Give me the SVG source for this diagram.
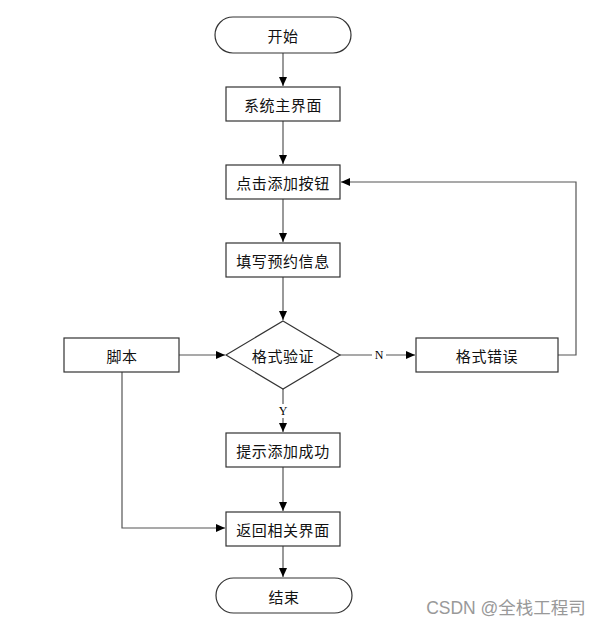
<svg xmlns="http://www.w3.org/2000/svg" width="605" height="627" viewBox="0 0 605 627">
<defs>
<style>
.n{fill:#fff;stroke:#333;stroke-width:1.2}
.t{font-family:"Noto Sans CJK SC","Noto Sans",sans-serif;font-size:15px;letter-spacing:0.6px;fill:#111;text-anchor:middle;dominant-baseline:central}
.l{font-family:"Liberation Serif",serif;font-size:12px;fill:#000;text-anchor:middle;dominant-baseline:central}
.c{fill:none;stroke:#555;stroke-width:1.2}
</style>
<marker id="a" markerWidth="10" markerHeight="10" refX="9" refY="5" orient="auto" markerUnits="userSpaceOnUse">
<path d="M0,1 L9,5 L0,9 Z" fill="#000"/>
</marker>
</defs>
<rect width="605" height="627" fill="#fff"/>
<g id="connectors">
<path class="c" d="M283,53 V86" marker-end="url(#a)"/>
<path class="c" d="M283,121 V164" marker-end="url(#a)"/>
<path class="c" d="M283,199 V242" marker-end="url(#a)"/>
<path class="c" d="M283,277 V320" marker-end="url(#a)"/>
<path class="c" d="M340,355 H415" marker-end="url(#a)"/>
<path class="c" d="M558,355 H576 V182 H341" marker-end="url(#a)"/>
<path class="c" d="M179,355 H225" marker-end="url(#a)"/>
<path class="c" d="M283,389 V432" marker-end="url(#a)"/>
<path class="c" d="M122,372 V528 H225" marker-end="url(#a)"/>
<path class="c" d="M283,467 V511" marker-end="url(#a)"/>
<path class="c" d="M283,546 V577" marker-end="url(#a)"/>
<rect x="372" y="348" width="14" height="14" fill="#fff"/>
<text class="l" x="379" y="355">N</text>
<rect x="277" y="404" width="12" height="14" fill="#fff"/>
<text class="l" x="283" y="411">Y</text>
</g>
<g id="start">
<rect class="n" x="215" y="17" width="136" height="36" rx="18"/>
<text class="t" x="283" y="35">开始</text>
</g>
<g id="main">
<rect class="n" x="226" y="87" width="114" height="34"/>
<text class="t" x="283" y="104">系统主界面</text>
</g>
<g id="click">
<rect class="n" x="226" y="165" width="114" height="34"/>
<text class="t" x="283" y="182">点击添加按钮</text>
</g>
<g id="fill">
<rect class="n" x="226" y="243" width="114" height="34"/>
<text class="t" x="283" y="260">填写预约信息</text>
</g>
<g id="verify">
<path class="n" d="M283,321 L340,355 L283,389 L226,355 Z"/>
<text class="t" x="283" y="355">格式验证</text>
</g>
<g id="error">
<rect class="n" x="416" y="338" width="142" height="34"/>
<text class="t" x="487" y="355">格式错误</text>
</g>
<g id="script">
<rect class="n" x="64" y="338" width="115" height="34"/>
<text class="t" x="122" y="355">脚本</text>
</g>
<g id="success">
<rect class="n" x="226" y="433" width="114" height="34"/>
<text class="t" x="283" y="450">提示添加成功</text>
</g>
<g id="return">
<rect class="n" x="226" y="512" width="114" height="34"/>
<text class="t" x="283" y="529">返回相关界面</text>
</g>
<g id="end">
<rect class="n" x="216" y="578" width="136" height="35" rx="17.5"/>
<text class="t" x="284" y="596">结束</text>
</g>
<text x="506" y="608" font-family="'Liberation Sans','Noto Sans CJK SC',sans-serif" font-size="17.5" fill="#999" text-anchor="middle" dominant-baseline="central">CSDN @全栈工程司</text>
</svg>
